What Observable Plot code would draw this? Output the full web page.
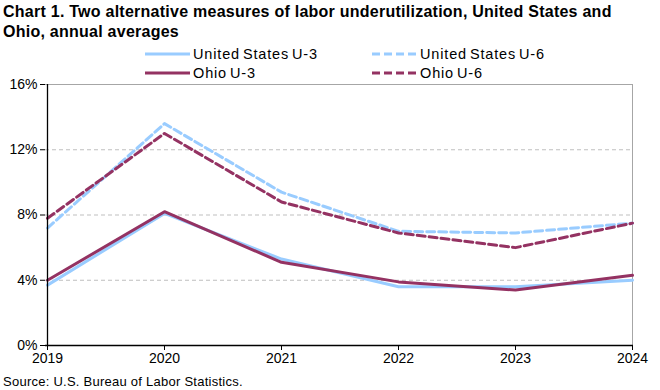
<!DOCTYPE html>
<html>
<head>
<meta charset="utf-8">
<script src="https://cdn.jsdelivr.net/npm/d3@7"></script>
<script src="https://cdn.jsdelivr.net/npm/@observablehq/plot@0.6"></script>
<style>
  html, body { margin: 0; padding: 0; background: #fff; }
  body { width: 660px; height: 390px; position: relative; overflow: hidden; font-family: "Liberation Sans", Arial, sans-serif; }
  #title { position: absolute; left: 3px; top: 2px; font-weight: bold; font-size: 16px; letter-spacing: 0.25px; line-height: 20px; color: #000; white-space: nowrap; }
  .leg { position: absolute; font-size: 14.5px; letter-spacing: 0.85px; word-spacing: -2px; color: #000; display: flex; align-items: center; white-space: nowrap; }
  .leg svg { margin-right: 3px; }
  #chart { position: absolute; left: 0; top: 72px; }
  #source { position: absolute; left: 3px; top: 374px; font-size: 13px; letter-spacing: 0.25px; color: #000; }
</style>
</head>
<body>
<div id="title">Chart 1. Two alternative measures of labor underutilization, United States and<br>Ohio, annual averages</div>
<div id="legend"></div>
<div id="chart"></div>
<div id="source">Source: U.S. Bureau of Labor Statistics.</div>
<script>
const years = [2019, 2020, 2021, 2022, 2023, 2024];
const usU3 = [3.7, 8.1, 5.3, 3.6, 3.6, 4.0];
const ohioU3 = [4.0, 8.2, 5.1, 3.9, 3.4, 4.3];
const usU6 = [7.2, 13.6, 9.4, 7.0, 6.9, 7.5];
const ohioU6 = [7.8, 13.0, 8.8, 6.9, 6.0, 7.5];
const yTicks = [0, 4, 8, 12, 16];
const seriesNames = ["United States U-3", "United States U-6", "Ohio U-3", "Ohio U-6"];

const blue = "#99ccff";
const maroon = "#943262";
const styles = {
  "United States U-3": {stroke: blue, dash: null},
  "United States U-6": {stroke: blue, dash: "8,4"},
  "Ohio U-3": {stroke: maroon, dash: null},
  "Ohio U-6": {stroke: maroon, dash: "8,4"}
};
const seriesValues = {
  "United States U-3": usU3,
  "United States U-6": usU6,
  "Ohio U-3": ohioU3,
  "Ohio U-6": ohioU6
};
const rows = seriesNames.flatMap(s => years.map((y, i) => ({series: s, year: y, value: seriesValues[s][i]})));

// legend
const legendPos = [[145, 45], [372, 45], [145, 64], [372, 64]];
const legend = document.getElementById("legend");
seriesNames.forEach((s, i) => {
  const d = document.createElement("div");
  d.className = "leg";
  d.style.left = legendPos[i][0] + "px";
  d.style.top = legendPos[i][1] + "px";
  const st = styles[s];
  d.innerHTML = `<svg width="45" height="18"><line x1="0" x2="45" y1="9" y2="9" stroke="${st.stroke}" stroke-width="3" ${st.dash ? `stroke-dasharray="${st.dash}"` : ""}/></svg><span>${s}</span>`;
  legend.appendChild(d);
});

const lineMark = s => Plot.line(rows.filter(r => r.series === s), {
  x: "year", y: "value", stroke: styles[s].stroke, strokeWidth: 3,
  strokeDasharray: styles[s].dash || undefined
});

const chart = Plot.plot({
  width: 660,
  height: 318,
  marginLeft: 45,
  marginRight: 27,
  marginTop: 12,
  marginBottom: 45,
  style: {fontFamily: "Liberation Sans, Arial, sans-serif", fontSize: "14px", color: "#000", background: "transparent"},
  x: {type: "point", domain: years, padding: 0, label: null},
  y: {domain: [0, 16], ticks: yTicks, label: null},
  marks: [
    Plot.gridY([4, 8, 12], {stroke: "#bfbfbf", strokeOpacity: 1, strokeDasharray: "4,3"}),
    Plot.ruleY([16], {stroke: "#a6a6a6"}),
    Plot.ruleX([2024], {stroke: "#a6a6a6"}),
    Plot.axisY(yTicks, {tickSize: 5, tickFormat: d => d + "%", stroke: "#000", fontSize: 14, tickPadding: 3, label: null}),
    Plot.axisX(years, {tickSize: 5, tickFormat: d => String(d), stroke: "#000", fontSize: 14, tickPadding: 3, label: null}),
    lineMark("United States U-3"),
    lineMark("Ohio U-3"),
    lineMark("United States U-6"),
    lineMark("Ohio U-6"),
    Plot.ruleY([0], {stroke: "#000", strokeWidth: 1.3}),
    Plot.ruleX([2019], {stroke: "#000", strokeWidth: 1.3})
  ]
});
document.getElementById("chart").appendChild(chart);
</script>
</body>
</html>
